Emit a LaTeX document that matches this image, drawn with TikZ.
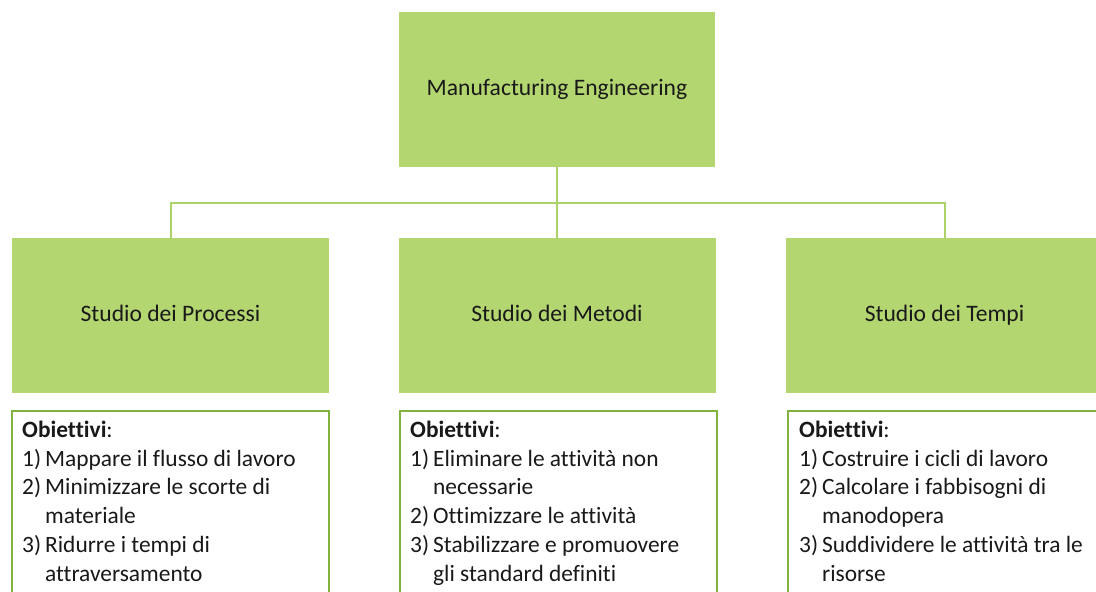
\documentclass[tikz,border=0pt]{standalone}
\usepackage{fontspec}
\setmainfont{Carlito}[Ligatures=NoCommon]
\definecolor{boxfill}{RGB}{180,214,112}
\definecolor{linegreen}{RGB}{172,209,104}
\definecolor{objborder}{RGB}{128,178,62}
\definecolor{txt}{RGB}{25,25,25}
\newcommand{\hang}[2]{\makebox[23pt][l]{#1}#2}
\newcommand{\cont}[1]{\hspace*{23pt}#1}
\begin{document}
\begin{tikzpicture}[x=1pt,y=-1pt,
  greenbox/.style={draw=none,fill=boxfill,minimum width=316pt,minimum height=155pt,
    inner sep=0pt,font=\fontsize{23.6}{28}\selectfont,text=txt,text height=16pt,text depth=5pt},
  objbox/.style={draw=objborder,line width=2pt,fill=white,minimum width=317pt,
    minimum height=200pt,anchor=north west,inner sep=0pt},
  objtext/.style={anchor=north west,inner sep=0pt,align=left,text=txt,
    font=\fontsize{23.4}{28.8}\selectfont},
  conn/.style={draw=linegreen,line width=2pt}]
\useasboundingbox (0,0) rectangle (1096,592);
\clip (0,0) rectangle (1096,592);
\fill[white] (0,0) rectangle (1096,592);
% top
\node[greenbox] (top) at (557,89.5) {Manufacturing Engineering};
% children
\node[greenbox,minimum width=317pt] (proc) at (170.5,315.5) {Studio dei Processi};
\node[greenbox,minimum width=317pt] (meto) at (557,315.5) {Studio dei Metodi};
\node[greenbox,minimum width=317pt] (temp) at (944.5,315.5) {Studio dei Tempi};
% connectors
\coordinate (junc) at (557,203);
\draw[conn] (top.south) -- (meto.north);
\draw[conn] (proc.north) |- (junc) -| (temp.north);
% objective boxes
\node[objbox] (op) at (11,410) {};
\node[objbox] (om) at (399,410) {};
\node[objbox] (ot) at (787,410) {};
\node[objtext] (tp) at (22,418) {\rule{0pt}{19pt}\textbf{Obiettivi}:\\
\hang{1)}{Mappare il flusso di lavoro}\\
\hang{2)}{Minimizzare le scorte di}\\
\cont{materiale}\\
\hang{3)}{Ridurre i tempi di}\\
\cont{attraversamento}};
\node[objtext] (tm) at (410,418) {\rule{0pt}{19pt}\textbf{Obiettivi}:\\
\hang{1)}{Eliminare le attività non}\\
\cont{necessarie}\\
\hang{2)}{Ottimizzare le attività}\\
\hang{3)}{Stabilizzare e promuovere}\\
\cont{gli standard definiti}};
\node[objtext] (tt) at (799,418) {\rule{0pt}{19pt}\textbf{Obiettivi}:\\
\hang{1)}{Costruire i cicli di lavoro}\\
\hang{2)}{Calcolare i fabbisogni di}\\
\cont{manodopera}\\
\hang{3)}{Suddividere le attività tra le}\\
\cont{risorse}};
\end{tikzpicture}
\end{document}
